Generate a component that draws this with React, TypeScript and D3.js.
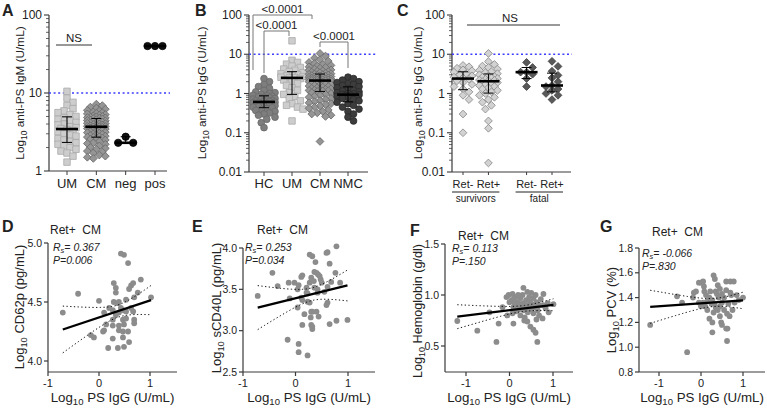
import React from 'react';
import * as d3 from 'd3';

const FONT = '"Liberation Sans", Arial, Helvetica, sans-serif';

// ---- Panel A: anti-PS IgM (U/mL)
const igmCats = ['UM', 'CM', 'neg', 'pos'];
const igmUM = [10.5, 8.6, 7.6, 6.9, 6.3, 5.9, 5.6, 5.3, 5.0, 4.8, 4.6, 4.4, 4.2, 4.0, 3.9, 3.7, 3.6, 3.5, 3.4, 3.3, 3.2, 3.0, 2.9, 2.8, 2.6, 2.5, 2.4, 2.3, 2.2, 2.1, 2.0, 1.9, 1.8, 1.7, 1.55, 1.3];
const igmCM = [7.2, 6.9, 6.6, 6.4, 6.2, 6.0, 5.9, 5.7, 5.6, 5.5, 5.4, 5.3, 5.2, 5.1, 5.0, 4.95, 4.9, 4.85, 4.8, 4.75, 4.7, 4.65, 4.55, 4.5, 4.45, 4.4, 4.35, 4.3, 4.25, 4.2, 4.15, 4.1, 4.05, 4.0, 3.95, 3.9, 3.85, 3.8, 3.75, 3.72, 3.7, 3.68, 3.65, 3.6, 3.55, 3.5, 3.45, 3.4, 3.35, 3.3, 3.25, 3.2, 3.15, 3.1, 3.05, 3.0, 2.95, 2.9, 2.85, 2.8, 2.75, 2.72, 2.7, 2.65, 2.6, 2.55, 2.5, 2.4, 2.3, 2.25, 2.2, 2.1, 2.0, 1.95, 1.9, 1.8, 1.75, 1.7, 1.6, 1.55, 1.5, 1.45];
const igmNeg = [2.75, 2.3, 2.3];
const igmPos = [40, 40, 40];

// ---- Panel B: anti-PS IgG (U/mL)
const iggCats = ['HC', 'UM', 'CM', 'NMC'];
const iggHC = [2.4, 2.0, 1.7, 1.5, 1.35, 1.2, 1.1, 1.05, 1.0, 0.95, 0.9, 0.88, 0.85, 0.82, 0.8, 0.78, 0.75, 0.72, 0.7, 0.68, 0.66, 0.65, 0.63, 0.62, 0.6, 0.59, 0.58, 0.56, 0.55, 0.53, 0.52, 0.5, 0.49, 0.48, 0.46, 0.45, 0.43, 0.41, 0.39, 0.37, 0.35, 0.32, 0.3, 0.28, 0.25, 0.22, 0.18, 0.135];
const iggUM = [22, 7.0, 6.2, 5.6, 5.0, 4.6, 4.2, 3.9, 3.6, 3.4, 3.2, 3.0, 2.9, 2.8, 2.7, 2.6, 2.55, 2.5, 2.4, 2.2, 2.0, 1.8, 1.6, 1.4, 1.2, 1.05, 0.95, 0.85, 0.75, 0.65, 0.55, 0.5, 0.45, 0.4, 0.2];
const iggCM = [10.5, 9.0, 8.0, 7.3, 6.7, 6.2, 5.8, 5.5, 5.2, 5.0, 4.8, 4.6, 4.4, 4.2, 4.0, 3.9, 3.8, 3.7, 3.6, 3.5, 3.4, 3.3, 3.2, 3.15, 3.08, 3.0, 2.95, 2.9, 2.85, 2.8, 2.75, 2.7, 2.65, 2.6, 2.55, 2.5, 2.47, 2.44, 2.4, 2.37, 2.34, 2.3, 2.27, 2.24, 2.21, 2.19, 2.17, 2.15, 2.12, 2.08, 2.04, 2.0, 1.95, 1.9, 1.85, 1.8, 1.75, 1.7, 1.65, 1.6, 1.55, 1.5, 1.45, 1.4, 1.36, 1.32, 1.28, 1.25, 1.22, 1.2, 1.18, 1.16, 1.12, 1.05, 1.0, 0.95, 0.9, 0.85, 0.8, 0.75, 0.7, 0.66, 0.62, 0.58, 0.55, 0.52, 0.48, 0.45, 0.42, 0.38, 0.35, 0.32, 0.3, 0.28, 0.26, 0.06];
const iggNMC = [2.6, 2.4, 2.2, 2.0, 1.9, 1.8, 1.7, 1.6, 1.5, 1.4, 1.3, 1.2, 1.15, 1.1, 1.05, 1.0, 0.98, 0.95, 0.92, 0.9, 0.88, 0.85, 0.82, 0.8, 0.75, 0.7, 0.65, 0.6, 0.55, 0.5, 0.45, 0.4, 0.35, 0.3, 0.25, 0.2];
const bStats = ['<0.0001', '<0.0001', '<0.0001'];

// ---- Panel C: anti-PS IgG by outcome
const retCats = ['Ret-', 'Ret+', 'Ret-', 'Ret+'];
const outcomeLabels = ['survivors', 'fatal'];
const survRetNeg = [5.2, 4.8, 4.4, 4.0, 3.8, 3.5, 3.2, 3.0, 2.8, 2.6, 2.5, 2.3, 2.1, 1.9, 1.7, 1.5, 1.3, 1.1, 0.9, 0.7, 0.3, 0.1];
const survRetPos = [10.5, 6.5, 5.5, 5.0, 4.6, 4.2, 3.9, 3.6, 3.4, 3.2, 3.0, 2.8, 2.7, 2.6, 2.5, 2.4, 2.3, 2.2, 2.15, 2.1, 2.0, 1.9, 1.8, 1.7, 1.6, 1.5, 1.4, 1.3, 1.2, 1.1, 1.0, 0.9, 0.8, 0.7, 0.6, 0.5, 0.4, 0.2, 0.13, 0.017];
const fatalRetNeg = [6.2, 4.6, 3.5, 3.5, 3.1, 2.4, 1.5];
const fatalRetPos = [6.6, 4.9, 3.7, 2.9, 2.5, 2.0, 1.6, 1.5, 1.3, 1.2, 1.0, 0.9, 0.7];

// ---- Panels D-G: correlations, Ret+ CM, x = log10 PS IgG
const cd62p = [[0.43, 4.91], [0.49, 4.9], [0.57, 4.83], [-0.41, 4.57], [-0.71, 4.41], [0.0, 4.51], [0.29, 4.66], [0.33, 4.62], [0.33, 4.58], [0.63, 4.64], [0.67, 4.66], [0.59, 4.61], [0.82, 4.69], [0.76, 4.58], [0.69, 4.54], [1.02, 4.54], [0.29, 4.5], [0.37, 4.49], [0.39, 4.5], [0.53, 4.52], [0.2, 4.45], [0.27, 4.43], [0.43, 4.45], [0.47, 4.43], [0.63, 4.45], [0.67, 4.42], [0.1, 4.41], [0.33, 4.39], [0.39, 4.41], [0.53, 4.42], [0.27, 4.35], [0.47, 4.35], [0.53, 4.36], [0.69, 4.35], [0.14, 4.31], [0.27, 4.3], [0.39, 4.3], [0.49, 4.31], [0.69, 4.32], [0.1, 4.26], [0.08, 4.25], [0.39, 4.26], [0.47, 4.25], [0.57, 4.25], [-0.16, 4.22], [-0.1, 4.2], [0.47, 4.2], [0.27, 4.19], [0.59, 4.16], [0.49, 4.12], [0.18, 4.11], [0.37, 4.11]];
const scd40l = [[0.78, 4.02], [0.27, 3.92], [0.32, 3.9], [0.59, 3.94], [0.61, 3.95], [0.38, 3.83], [-0.44, 3.7], [0.65, 3.81], [0.13, 3.67], [0.11, 3.65], [0.36, 3.71], [0.4, 3.7], [0.43, 3.68], [0.46, 3.66], [0.3, 3.64], [0.76, 3.7], [-0.02, 3.58], [-0.13, 3.58], [-0.34, 3.54], [0.06, 3.55], [0.27, 3.58], [0.5, 3.58], [0.61, 3.53], [-0.72, 3.42], [0.04, 3.5], [0.21, 3.52], [0.36, 3.52], [0.42, 3.5], [0.21, 3.46], [0.23, 3.45], [-0.11, 3.39], [0.42, 3.46], [0.55, 3.47], [0.11, 3.4], [0.13, 3.37], [0.23, 3.35], [0.27, 3.34], [0.61, 3.34], [0.59, 3.31], [0.04, 3.28], [0.3, 3.23], [0.32, 3.23], [0.17, 3.2], [0.4, 3.23], [0.29, 3.16], [0.44, 3.17], [0.13, 3.07], [0.3, 3.07], [0.32, 3.05], [0.32, 3.02], [0.65, 3.08], [0.78, 3.12], [0.99, 3.13], [-0.15, 2.89], [0.06, 2.84], [0.06, 2.74], [0.23, 2.7], [0.35, 3.6], [0.48, 3.62], [0.68, 3.59], [0.85, 3.58]];
const hemoglobin = [[-1.2, 0.745], [-0.74, 0.65], [-0.46, 0.83], [-0.25, 0.72], [-0.3, 0.54], [-0.05, 0.8], [-0.16, 0.88], [-0.07, 0.98], [-0.02, 1.0], [0.07, 1.01], [0.14, 0.98], [0.25, 0.97], [0.18, 0.93], [0.32, 1.07], [0.41, 1.03], [0.09, 0.88], [0.07, 0.82], [0.09, 0.72], [0.34, 0.75], [0.41, 0.74], [0.48, 0.69], [0.55, 0.66], [0.6, 0.63], [0.64, 0.54], [0.78, 1.01], [0.76, 0.77], [0.83, 0.87], [1.01, 0.91], [0.05, 0.95], [0.12, 0.92], [0.2, 0.9], [0.22, 0.86], [0.28, 0.88], [0.3, 0.92], [0.33, 0.85], [0.36, 0.9], [0.38, 0.95], [0.4, 0.87], [0.42, 0.83], [0.45, 0.9], [0.47, 0.94], [0.5, 0.86], [0.52, 0.91], [0.55, 0.82], [0.58, 0.88], [0.62, 0.93], [0.65, 0.85], [0.7, 0.9], [0.72, 0.96], [0.68, 0.8], [0.25, 0.8], [0.15, 0.84], [0.35, 0.78], [0.45, 0.98], [0.55, 0.97], [0.6, 1.0], [0.5, 1.02], [0.3, 1.0], [0.2, 1.0], [0.1, 0.96], [0.0, 0.93], [0.88, 0.92], [0.9, 0.83], [0.78, 0.9], [0.62, 0.76]];
const pcv = [[-1.21, 1.18], [-0.57, 1.41], [-0.45, 1.36], [-0.33, 0.96], [-0.19, 1.4], [-0.17, 1.44], [-0.12, 1.45], [-0.05, 1.52], [0.0, 1.52], [0.05, 1.53], [0.07, 1.49], [-0.05, 1.36], [0.0, 1.33], [0.05, 1.36], [0.1, 1.33], [0.12, 1.42], [0.2, 1.23], [0.27, 1.2], [0.27, 1.38], [0.3, 1.58], [0.33, 1.55], [0.27, 1.12], [0.48, 1.2], [0.5, 1.18], [0.6, 1.15], [0.63, 1.15], [0.62, 1.05], [1.0, 1.4], [0.6, 1.53], [0.7, 1.53], [0.78, 1.53], [0.6, 1.46], [0.7, 1.44], [0.72, 1.42], [0.4, 1.5], [0.45, 1.47], [0.35, 1.45], [0.38, 1.43], [0.42, 1.4], [0.5, 1.43], [0.2, 1.4], [0.15, 1.37], [0.25, 1.35], [0.32, 1.35], [0.35, 1.32], [0.4, 1.3], [0.45, 1.33], [0.5, 1.36], [0.55, 1.3], [0.62, 1.27], [0.65, 1.35], [0.68, 1.25], [0.85, 1.42], [0.9, 1.38], [0.8, 1.36], [0.45, 1.25], [0.3, 1.28], [0.15, 1.3], [0.08, 1.45], [0.55, 1.4], [0.75, 1.3], [0.22, 1.45]];
const rsValues = ['0.367', '0.253', '0.113', '-0.066'];
const pValues = ['P=0.006', 'P=0.034', 'P=.150', 'P=.830'];
const scatterYLabels = ['CD62p (pg/mL)', 'sCD40L (pg/mL)', 'Hemoglobin (g/dl)', 'PCV (%)'];

const AXIS = '#3a3a3a';
const BLUE = '#3d3dff';

// GraphPad-style percentile (n+1 method)
function pct(vals: number[], p: number) {
  const s = [...vals].sort((a, b) => a - b);
  const n = s.length;
  let pos = p * (n + 1);
  pos = Math.max(1, Math.min(n, pos));
  const lo = Math.floor(pos), hi = Math.ceil(pos);
  return s[lo - 1] + (s[hi - 1] - s[lo - 1]) * (pos - lo);
}

function swarm(vals: number[], y: (v: number) => number, r: number, maxHalf: number) {
  const pts = vals.map(v => ({ v, y: y(v), x: 0 })).sort((a, b) => a.y - b.y);
  const placed: { v: number; y: number; x: number }[] = [];
  const step = r * 0.5;
  pts.forEach(p => {
    const cands = [0];
    for (let k = 1; k * step <= maxHalf; k++) cands.push(k * step, -k * step);
    let best = 0, bestScore = -Infinity;
    for (const c of cands) {
      let minD = Infinity;
      for (const q of placed) {
        const d = Math.hypot(q.x - c, q.y - p.y);
        if (d < minD) minD = d;
      }
      if (minD >= r) { best = c; break; }
      if (minD > bestScore) { bestScore = minD; best = c; }
    }
    placed.push({ ...p, x: best });
  });
  return placed;
}

const symPath = (shape: string, size: number) => {
  const t = shape === 'circle' ? d3.symbolCircle : d3.symbolSquare;
  return d3.symbol().type(t).size(size)() as string;
};

function YLabel({ x, y, text, size = 11.8 }: any) {
  return (
    <text transform={`translate(${x},${y}) rotate(-90)`} textAnchor="middle" fontSize={size} fill="#222">
      Log<tspan fontSize={size * 0.72} dy={3}>10</tspan><tspan dy={-3}>{' ' + text}</tspan>
    </text>
  );
}

function LogAxis({ x, y, xEnd, decades }: any) {
  const [b, t] = y.range();
  const majors = decades as number[];
  const minors: number[] = [];
  majors.slice(0, -1).forEach(m => { for (let k = 2; k <= 9; k++) minors.push(m * k); });
  return (
    <g stroke={AXIS} fill="none">
      <line x1={x} x2={x} y1={b} y2={t} strokeWidth={1.2} />
      <line x1={x} x2={xEnd} y1={b} y2={b} strokeWidth={1.2} />
      {majors.map(m => <line key={m} x1={x - 5} x2={x} y1={y(m)} y2={y(m)} strokeWidth={1.1} />)}
      {minors.map(m => <line key={m} x1={x - 3} x2={x} y1={y(m)} y2={y(m)} strokeWidth={0.8} />)}
      {majors.map(m => (
        <text key={'t' + m} x={x - 7} y={y(m) + 4} textAnchor="end" fontSize={12} fill="#222" stroke="none">{String(m)}</text>
      ))}
    </g>
  );
}

function DotGroup({ vals, cx, y, st, r = 6.5, maxHalf = 13, bar = true }: any) {
  const pts = swarm(vals, y, r, maxHalf);
  const path = symPath(st.shape, st.size);
  const med = pct(vals, 0.5), q1 = pct(vals, 0.25), q3 = pct(vals, 0.75);
  return (
    <g>
      {pts.map((p, i) => (
        <path key={i} d={path} transform={`translate(${cx + p.x},${p.y})${st.shape === 'diamond' ? ' rotate(45)' : ''}`}
          fill={st.fill} stroke={st.stroke} strokeWidth={0.8} />
      ))}
      {bar && (
        <g stroke="#000" fill="none">
          <line x1={cx} x2={cx} y1={y(q1)} y2={y(q3)} strokeWidth={1} />
          <line x1={cx - 5} x2={cx + 5} y1={y(q1)} y2={y(q1)} strokeWidth={1} />
          <line x1={cx - 5} x2={cx + 5} y1={y(q3)} y2={y(q3)} strokeWidth={1} />
        </g>
      )}
      <line x1={cx - 11} x2={cx + 11} y1={y(med)} y2={y(med)} stroke="#000" strokeWidth={2.6} />
    </g>
  );
}

const stLightSq = { shape: 'square', size: 42, fill: '#cdcdcd', stroke: '#aaaaaa' };
const stMidDia = { shape: 'diamond', size: 30, fill: '#959595', stroke: '#6a6a6a' };
const stBlack = { shape: 'circle', size: 42, fill: '#111', stroke: '#000' };
const stHC = { shape: 'circle', size: 36, fill: '#7e7e7e', stroke: '#6a6a6a' };
const stNMC = { shape: 'circle', size: 36, fill: '#3c3c3c', stroke: '#2a2a2a' };
const stLightDia = { shape: 'diamond', size: 30, fill: '#d2d2d2', stroke: '#8a8a8a' };
const stDarkDia = { shape: 'diamond', size: 30, fill: '#595959', stroke: '#444' };

function PanelA() {
  const y = d3.scaleLog().domain([1, 100]).range([171, 15]);
  const x = d3.scalePoint().domain(igmCats).range([67, 155]);
  const groups = [igmUM, igmCM, igmNeg, igmPos];
  const styles = [stLightSq, stMidDia, stBlack, stBlack];
  return (
    <g>
      <text x={2} y={16} fontSize={16} fontWeight="bold">A</text>
      <YLabel x={24} y={93} text="anti-PS IgM (U/mL)" />
      <LogAxis x={49} y={y} xEnd={167} decades={[1, 10, 100]} />
      <line x1={49} x2={170} y1={y(10)} y2={y(10)} stroke={BLUE} strokeWidth={1.3} strokeDasharray="2 2.6" />
      {groups.map((g, i) => (
        <DotGroup key={i} vals={g} cx={x(igmCats[i])} y={y} st={styles[i]} maxHalf={i < 2 ? 11 : 8}
          r={i < 2 ? 6 : 7.5} bar={i < 3} />
      ))}
      {igmCats.map(c => (
        <g key={c}>
          <line x1={x(c)} x2={x(c)} y1={171} y2={175} stroke={AXIS} />
          <text x={x(c)} y={188} textAnchor="middle" fontSize={13}>{c}</text>
        </g>
      ))}
      <line x1={56} x2={92} y1={45} y2={45} stroke="#333" strokeWidth={1} />
      <text x={74} y={42} textAnchor="middle" fontSize={11.5}>NS</text>
    </g>
  );
}

function PanelB() {
  const y = d3.scaleLog().domain([0.01, 100]).range([172, 15]);
  const x = d3.scalePoint().domain(iggCats).range([264, 348]);
  const groups = [iggHC, iggUM, iggCM, iggNMC];
  const styles = [stHC, stLightSq, stMidDia, stNMC];
  const brackets = [
    { a: 'HC', b: 'CM', dxa: -11, dxb: -8, bar: 15, la: 70, lb: 19 },
    { a: 'HC', b: 'UM', dxa: 0, dxb: -3, bar: 31, la: 73, lb: 36 },
    { a: 'CM', b: 'NMC', dxa: 0, dxb: 0, bar: 42, la: 47, lb: 68 },
  ];
  return (
    <g>
      <text x={195} y={16} fontSize={16} fontWeight="bold">B</text>
      <YLabel x={206} y={93} text="anti-PS IgG (U/mL)" />
      <LogAxis x={249} y={y} xEnd={368} decades={[0.01, 0.1, 1, 10, 100]} />
      <line x1={249} x2={376} y1={y(10)} y2={y(10)} stroke={BLUE} strokeWidth={1.3} strokeDasharray="2 2.6" />
      {groups.map((g, i) => (
        <DotGroup key={i} vals={g} cx={x(iggCats[i])} y={y} st={styles[i]} r={5.5} maxHalf={12} />
      ))}
      {iggCats.map(c => (
        <g key={c}>
          <line x1={x(c)} x2={x(c)} y1={172} y2={176} stroke={AXIS} />
          <text x={x(c)} y={188} textAnchor="middle" fontSize={13}>{c}</text>
        </g>
      ))}
      {brackets.map((br, i) => {
        const xa = (x(br.a) as number) + br.dxa, xb = (x(br.b) as number) + br.dxb;
        return (
          <g key={i}>
            <path d={`M${xa},${br.la}V${br.bar}H${xb}V${br.lb}`} fill="none" stroke="#777" strokeWidth={1} />
            <text x={(xa + xb) / 2} y={br.bar - 2} textAnchor="middle" fontSize={11.5}>{bStats[i]}</text>
          </g>
        );
      })}
    </g>
  );
}

function PanelC() {
  const y = d3.scaleLog().domain([0.01, 100]).range([172, 15]);
  const x = d3.scaleLinear().domain([0, 3.5]).range([463, 552]);
  const slots = [0, 1, 2.5, 3.5];
  const groups = [survRetNeg, survRetPos, fatalRetNeg, fatalRetPos];
  const styles = [stLightDia, stLightDia, stDarkDia, stDarkDia];
  return (
    <g>
      <text x={397} y={16} fontSize={16} fontWeight="bold">C</text>
      <YLabel x={422} y={93} text="anti-PS IgG (U/mL)" />
      <LogAxis x={452} y={y} xEnd={571} decades={[0.01, 0.1, 1, 10, 100]} />
      <line x1={452} x2={572} y1={y(10)} y2={y(10)} stroke={BLUE} strokeWidth={1.3} strokeDasharray="2 2.6" />
      {groups.map((g, i) => (
        <DotGroup key={i} vals={g} cx={x(slots[i])} y={y} st={styles[i]} r={6} maxHalf={10} />
      ))}
      {slots.map((s, i) => (
        <g key={i}>
          <line x1={x(s)} x2={x(s)} y1={172} y2={175} stroke={AXIS} />
          <text x={x(s)} y={188} textAnchor="middle" fontSize={11}>{retCats[i]}</text>
        </g>
      ))}
      {outcomeLabels.map((l, i) => {
        const a = x(slots[i * 2]), b = x(slots[i * 2 + 1]);
        return (
          <g key={l}>
            <line x1={a - 11} x2={b + 11} y1={192} y2={192} stroke="#222" strokeWidth={1} />
            <text x={(a + b) / 2} y={202} textAnchor="middle" fontSize={10}>{l}</text>
          </g>
        );
      })}
      <line x1={467} x2={560} y1={25} y2={25} stroke="#333" strokeWidth={1} />
      <text x={510} y={22} textAnchor="middle" fontSize={11.5}>NS</text>
    </g>
  );
}

function fitLine(pts: number[][]) {
  const n = pts.length;
  const xm = d3.mean(pts, p => p[0]) as number;
  const ym = d3.mean(pts, p => p[1]) as number;
  const sxx = d3.sum(pts, p => (p[0] - xm) ** 2);
  const sxy = d3.sum(pts, p => (p[0] - xm) * (p[1] - ym));
  const b = sxy / sxx, a = ym - b * xm;
  const se = Math.sqrt(d3.sum(pts, p => (p[1] - a - b * p[0]) ** 2) / (n - 2));
  const [x0, x1] = d3.extent(pts, p => p[0]) as [number, number];
  const xs = d3.range(41).map(i => x0 + ((x1 - x0) * i) / 40);
  const half = (v: number) => 2.0 * se * Math.sqrt(1 / n + (v - xm) ** 2 / sxx);
  return {
    line: [[x0, a + b * x0], [x1, a + b * x1]],
    upper: xs.map(v => [v, a + b * v + half(v)]),
    lower: xs.map(v => [v, a + b * v - half(v)]),
  };
}

const scatterLayouts = [
  { letter: 'D', lx: 2, ly: 232, data: cd62p, ax: 48, xr: [48, 150], xEnd: 177, yd: [4, 5], yr: [361, 243], yTop: 243, yTicks: [4, 4.5, 5], labX: 24, labY: 307, labSize: 13, tx: 50, ty: 234, sx: 53, sy: 251 },
  { letter: 'E', lx: 192, ly: 232, data: scd40l, ax: 243, xr: [243, 348], xEnd: 375, yd: [2.5, 4], yr: [372, 248], yTop: 248, yTicks: [2.5, 3, 3.5, 4], labX: 221, labY: 308, labSize: 13, tx: 257, ty: 234, sx: 245, sy: 251 },
  { letter: 'F', lx: 410, ly: 236, data: hemoglobin, ax: 445, xr: [466, 553], xEnd: 573, yd: [0.5, 1.5], yr: [346, 244], yTop: 244, yTicks: [0.5, 1, 1.5], labX: 422, labY: 311, labSize: 12.6, tx: 458, ty: 240, sx: 452, sy: 252 },
  { letter: 'G', lx: 600, ly: 232, data: pcv, ax: 639, xr: [659, 743], xEnd: 765, yd: [0.8, 1.8], yr: [372, 248], yTop: 248, yTicks: [0.8, 1, 1.2, 1.4, 1.6, 1.8], labX: 616, labY: 310, labSize: 13, tx: 652, ty: 236, sx: 642, sy: 257 },
];

function ScatterPanel({ L, i }: any) {
  const x = d3.scaleLinear().domain([-1, 1]).range(L.xr);
  const y = d3.scaleLinear().domain(L.yd).range(L.yr);
  const bottom = 372;
  const f = fitLine(L.data);
  const ln = d3.line<number[]>().x(d => x(d[0])).y(d => y(d[1])).curve(d3.curveMonotoneX);
  return (
    <g>
      <text x={L.lx} y={L.ly} fontSize={16} fontWeight="bold">{L.letter}</text>
      <text x={L.tx} y={L.ty} fontSize={12}>{'Ret+\u00a0\u00a0CM'}</text>
      <YLabel x={L.labX} y={L.labY} text={scatterYLabels[i]} size={L.labSize} />
      <g stroke={AXIS} fill="none" strokeWidth={1.2}>
        <line x1={L.ax} x2={L.ax} y1={bottom} y2={L.yTop} />
        <line x1={L.ax} x2={L.xEnd} y1={bottom} y2={bottom} />
        {L.yTicks.map((t: number) => <line key={t} x1={L.ax - 4} x2={L.ax} y1={y(t)} y2={y(t)} />)}
        {[-1, 0, 1].map(t => <line key={t} x1={x(t)} x2={x(t)} y1={bottom} y2={bottom + 4} />)}
      </g>
      {L.yTicks.map((t: number) => (
        <text key={t} x={L.ax - 6} y={y(t) + 3.5} textAnchor="end" fontSize={10.5}>{d3.format('.1f')(t)}</text>
      ))}
      {[-1, 0, 1].map(t => (
        <text key={t} x={x(t)} y={387} textAnchor="middle" fontSize={11}>{String(t)}</text>
      ))}
      <text x={(L.ax + L.xEnd) / 2} y={402} textAnchor="middle" fontSize={13.3}>
        Log<tspan fontSize={9.5} dy={3}>10</tspan><tspan dy={-3}> PS IgG (U/mL)</tspan>
      </text>
      {L.data.map((p: number[], k: number) => (
        <circle key={k} cx={x(p[0])} cy={y(p[1])} r={2.9} fill="#8c8c8c" />
      ))}
      <path d={ln(f.upper) as string} fill="none" stroke="#111" strokeWidth={1} strokeDasharray="1.3 2.4" />
      <path d={ln(f.lower) as string} fill="none" stroke="#111" strokeWidth={1} strokeDasharray="1.3 2.4" />
      <path d={ln(f.line) as string} fill="none" stroke="#000" strokeWidth={2.3} />
      <text x={L.sx} y={L.sy} fontSize={10.5} fontStyle="italic">
        R<tspan fontSize={7.5} dy={2}>s</tspan><tspan dy={-2}>{'= ' + rsValues[i]}</tspan>
      </text>
      <text x={L.sx} y={L.sy + 13} fontSize={10.5} fontStyle="italic">{pValues[i]}</text>
    </g>
  );
}

export default function App() {
  return (
    <svg width={767} height={408} viewBox="0 0 767 408"
      style={{ position: 'absolute', left: 0, top: 0, background: '#fff', fontFamily: FONT }}>
      <g fontFamily={FONT} fill="#222">
        <PanelA />
        <PanelB />
        <PanelC />
        {scatterLayouts.map((L, i) => <ScatterPanel key={L.letter} L={L} i={i} />)}
      </g>
    </svg>
  );
}
